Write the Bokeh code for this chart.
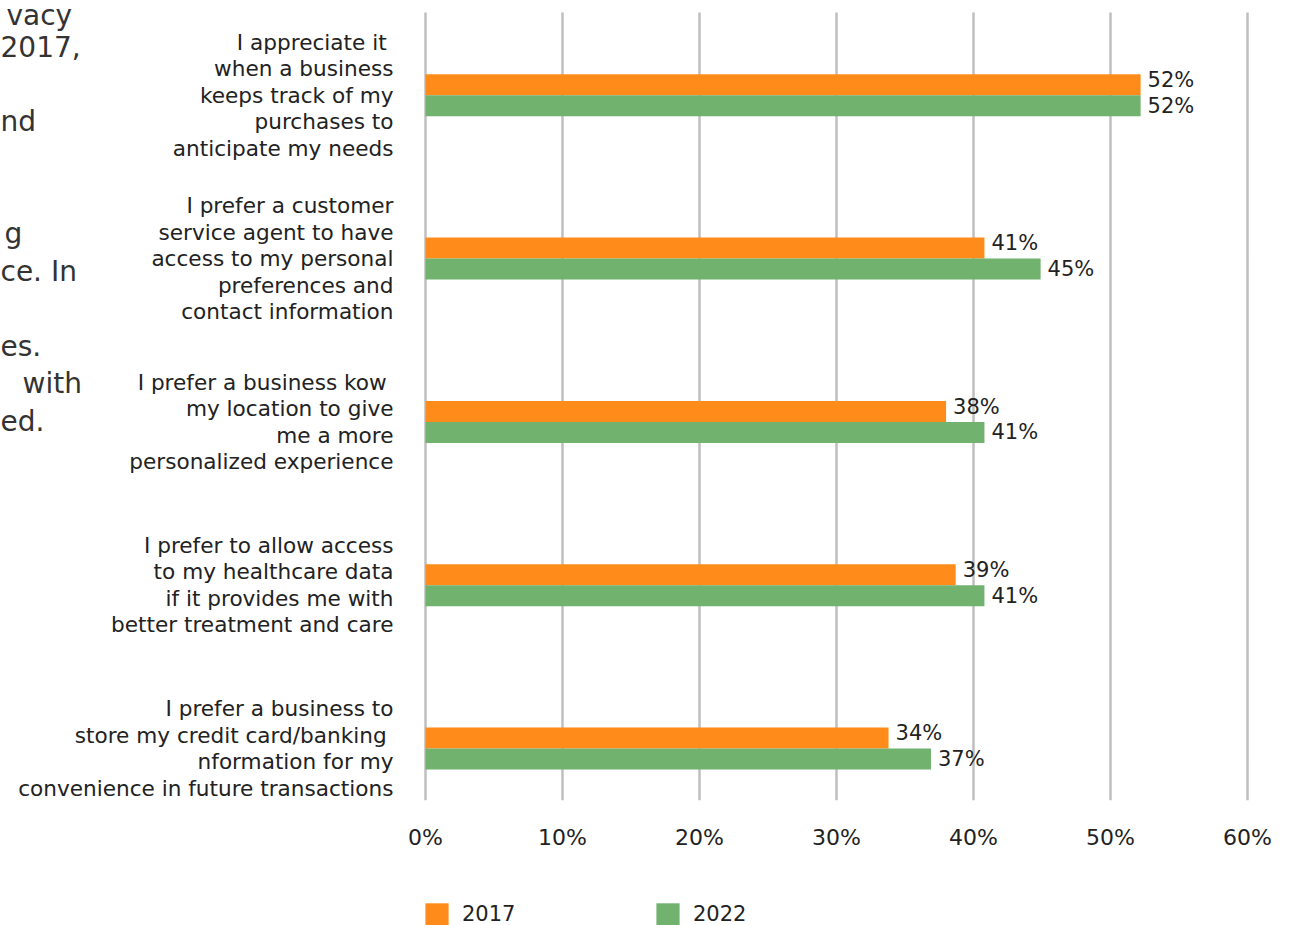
from bokeh.plotting import figure
from bokeh.layouts import column
from bokeh.models import (Range1d, FixedTicker, PrintfTickFormatter, Label,
                          Legend, LegendItem, ColumnDataSource)
from bokeh.transform import dodge
from bokeh.core.properties import value
from bokeh.embed import file_html
from bokeh.resources import INLINE

# ---------------- data ----------------
categories = [
    "I appreciate it \nwhen a business\nkeeps track of my\npurchases to\nanticipate my needs",
    "I prefer a customer\nservice agent to have\naccess to my personal\npreferences and\ncontact information",
    "I prefer a business kow \nmy location to give\nme a more\npersonalized experience",
    "I prefer to allow access\nto my healthcare data\nif it provides me with\nbetter treatment and care",
    "I prefer a business to\nstore my credit card/banking \nnformation for my\nconvenience in future transactions",
]
values_2017 = [52.2, 40.8, 38.0, 38.7, 33.8]
values_2022 = [52.2, 44.9, 40.8, 40.8, 36.9]
labels_2017 = ["52%", "41%", "38%", "39%", "34%"]
labels_2022 = ["52%", "45%", "41%", "41%", "37%"]
series_names = ["2017", "2022"]
x_ticks = [0, 10, 20, 30, 40, 50, 60]
side_text = ["vacy", "2017,", "nd", "g", "ce. In", "es.", "with", "ed."]

# ---------------- styles / layout ----------------
side_text_line = [0, 1, 3, 6, 7, 9, 10, 11]
side_text_left = [6, 0, 0, 4, 0, 0, 22, 0]
FONT = "DejaVu Sans"
ORANGE = "#FF8C1A"
GREEN = "#71B26F"
TEXT = "#222222"
GRID = "#BFBFBF"

n = len(categories)
pos = [n - 1 - i for i in range(n)]
src = ColumnDataSource(dict(pos=pos, base=[0] * n, cat=categories,
                            v17=values_2017, v22=values_2022,
                            l17=labels_2017, l22=labels_2022))

p = figure(width=1300, height=870, output_backend="svg", toolbar_location=None,
           x_range=Range1d(-31.02, 63.87), y_range=Range1d(-0.3184, 4.5805),
           min_border_left=0, min_border_right=0, min_border_top=0,
           min_border_bottom=70)
p.outline_line_color = None
p.background_fill_color = "white"
p.border_fill_color = "white"

off = 0.0643
bh = 0.1286
r17 = p.hbar(y=dodge("pos", off), left="base", right="v17", height=bh,
             fill_color=ORANGE, line_color=None, source=src)
r22 = p.hbar(y=dodge("pos", -off), left="base", right="v22", height=bh,
             fill_color=GREEN, line_color=None, source=src)

p.text(x="v17", y=dodge("pos", off + 0.03), text="l17", x_offset=7,
       text_baseline="middle", text_align="left", text_font=value(FONT),
       text_font_size="21px", text_color=TEXT, source=src)
p.text(x="v22", y=dodge("pos", -off), text="l22", x_offset=7,
       text_baseline="middle", text_align="left", text_font=value(FONT),
       text_font_size="21px", text_color=TEXT, source=src)

# category labels, right-aligned against the 0% line
p.text(x="base", y="pos", text="cat", x_offset=-32, text_align="right",
       text_baseline="middle", text_font=value(FONT), text_font_size="21.6px",
       text_color=TEXT, text_line_height=1.06, source=src)

# paragraph fragments at the left edge (screen units)
for ln, t, xl in zip(side_text_line, side_text, side_text_left):
    p.add_layout(Label(x=xl, y=800 - max(15, 8 + 37.5 * ln), x_units="screen",
                       y_units="screen", text=t, text_align="left",
                       text_baseline="alphabetic", text_font=FONT,
                       text_font_size="28px", text_color="#333333"))

# axes / grid
p.yaxis.visible = False
p.ygrid.visible = False
p.xaxis.ticker = FixedTicker(ticks=x_ticks)
p.xaxis.formatter = PrintfTickFormatter(format="%d%%")
p.xaxis.axis_line_color = None
p.xaxis.major_tick_line_color = None
p.xaxis.minor_tick_line_color = None
p.xaxis.major_tick_out = 0
p.xaxis.major_tick_in = 0
p.xaxis.major_label_standoff = 24
p.xaxis.major_label_text_font = FONT
p.xaxis.major_label_text_font_size = "22px"
p.xaxis.major_label_text_color = TEXT
p.xgrid.ticker = FixedTicker(ticks=x_ticks)
p.xgrid.grid_line_color = GRID
p.xgrid.grid_line_width = 2.5
try:
    p.xgrid.cross_bounds = (-0.3184, 4.507)
except Exception:
    pass

# legend strip below the chart (same bars, kept out of view, drive the swatches)
p2 = figure(width=1300, height=55, output_backend="svg", toolbar_location=None,
            x_range=Range1d(-300, -200), y_range=Range1d(-300, -200),
            x_axis_location=None, y_axis_location=None,
            min_border_left=0, min_border_right=0, min_border_top=0,
            min_border_bottom=0)
p2.outline_line_color = None
p2.grid.visible = False
p2.background_fill_color = "white"
p2.border_fill_color = "white"
g17 = p2.hbar(y="pos", left="base", right="v17", height=bh,
              fill_color=ORANGE, line_color=None, source=src)
g22 = p2.hbar(y="pos", left="base", right="v22", height=bh,
              fill_color=GREEN, line_color=None, source=src)
legend = Legend(items=[LegendItem(label=series_names[0], renderers=[g17]),
                       LegendItem(label=series_names[1], renderers=[g22])],
                orientation="horizontal", location=(422, -3),
                glyph_width=29, glyph_height=28, label_height=28,
                label_width=191, label_standoff=11, spacing=0, padding=0,
                margin=0, border_line_color=None, background_fill_alpha=0,
                label_text_font=FONT, label_text_font_size="21px",
                label_text_color=TEXT, label_text_baseline="middle")
p2.add_layout(legend, "center")

layout = column(p, p2, spacing=0)
open("out.html", "w").write(file_html(layout, INLINE))
